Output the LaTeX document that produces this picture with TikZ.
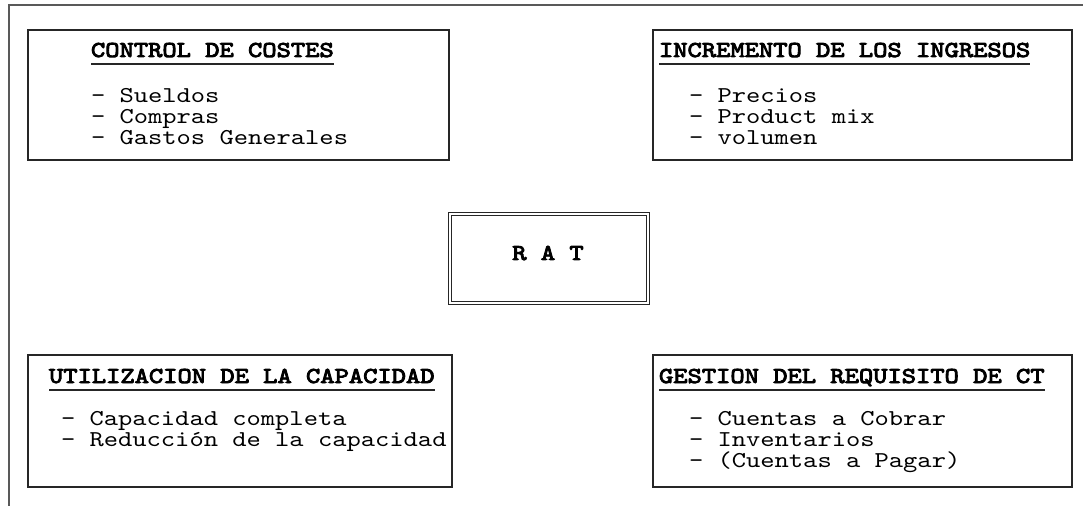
\documentclass[tikz,border=0pt]{standalone}
\usepackage{fontspec}
\newfontfamily\boxfont{lmmono10-regular.otf}[FakeStretch=1.2]
\newfontfamily\boxheadfont{lmmono10-regular.otf}[FakeStretch=1.2, FakeBold=4]
\newcommand\itemfont{\boxfont\fontsize{17pt}{20pt}\selectfont}
\newcommand\headfont{\boxheadfont\fontsize{17pt}{20pt}\selectfont}

\begin{document}
\begin{tikzpicture}
  [x=0.75pt, y=-0.75pt,
    every node/.style={inner sep=0pt, outer sep=0pt, text height=11pt, text depth=3pt},
    frame/.style={draw=black!65, line width=1.4pt},
    box/.style={draw=black!85, line width=1.4pt},
    head/.style={font=\headfont, anchor=base west},
    entry/.style={font=\itemfont, anchor=base west},
    uline/.style={draw=black!85, line width=1.1pt},
    ratbox/.style={draw=black!85, double, double distance=1.8pt, line width=0.9pt,
      minimum width=148.5pt, minimum height=66.75pt},
  ]
  \useasboundingbox (0,0) rectangle (1083,506);

  \draw[frame] (1083,5) -- (9,5) -- (9,506);

  % control de costes
  \draw[box] (28,30) rectangle (449,160);
  \node[head] (costes) at (91,57) {CONTROL DE COSTES};
  \draw[uline] ([yshift=-5.25pt]costes.base west) -- ([yshift=-5.25pt]costes.base east);
  \foreach \t [count=\i] in {Sueldos, Compras, Gastos Generales}
    \node[entry] (costes\i) at (91,82+21*\i) {- \t};

  % incremento de los ingresos
  \draw[box] (653,30) rectangle (1072,160);
  \node[head] (ingresos) at (659,57) {INCREMENTO DE LOS INGRESOS};
  \draw[uline] ([yshift=-5.25pt]ingresos.base west) -- ([yshift=-5.25pt]ingresos.base east);
  \foreach \t [count=\i] in {Precios, Product mix, volumen}
    \node[entry] (ingresos\i) at (689,82+21*\i) {- \t};

  % centro
  \node[ratbox, text height=0pt, text depth=0pt] (rat) at (549,258.5) {};
  \node[head, anchor=base] (ratlbl) at (548,260) {R A T};

  % utilizacion de la capacidad
  \draw[box] (28,355) rectangle (452,487);
  \node[head] (capacidad) at (49,383) {UTILIZACION DE LA CAPACIDAD};
  \draw[uline] ([yshift=-5.25pt]capacidad.base west) -- ([yshift=-5.25pt]capacidad.base east);
  \foreach \t [count=\i] in {Capacidad completa, Reducción de la capacidad}
    \node[entry] (capacidad\i) at (61,404+21*\i) {- \t};

  % gestion del requisito de CT
  \draw[box] (653,355) rectangle (1072,487);
  \node[head] (gestion) at (659,383) {GESTION DEL REQUISITO DE CT};
  \draw[uline] ([yshift=-5.25pt]gestion.base west) -- ([yshift=-5.25pt]gestion.base east);
  \foreach \t [count=\i] in {Cuentas a Cobrar, Inventarios, (Cuentas a Pagar)}
    \node[entry] (gestion\i) at (689,404+21*\i) {- \t};
\end{tikzpicture}
\end{document}
